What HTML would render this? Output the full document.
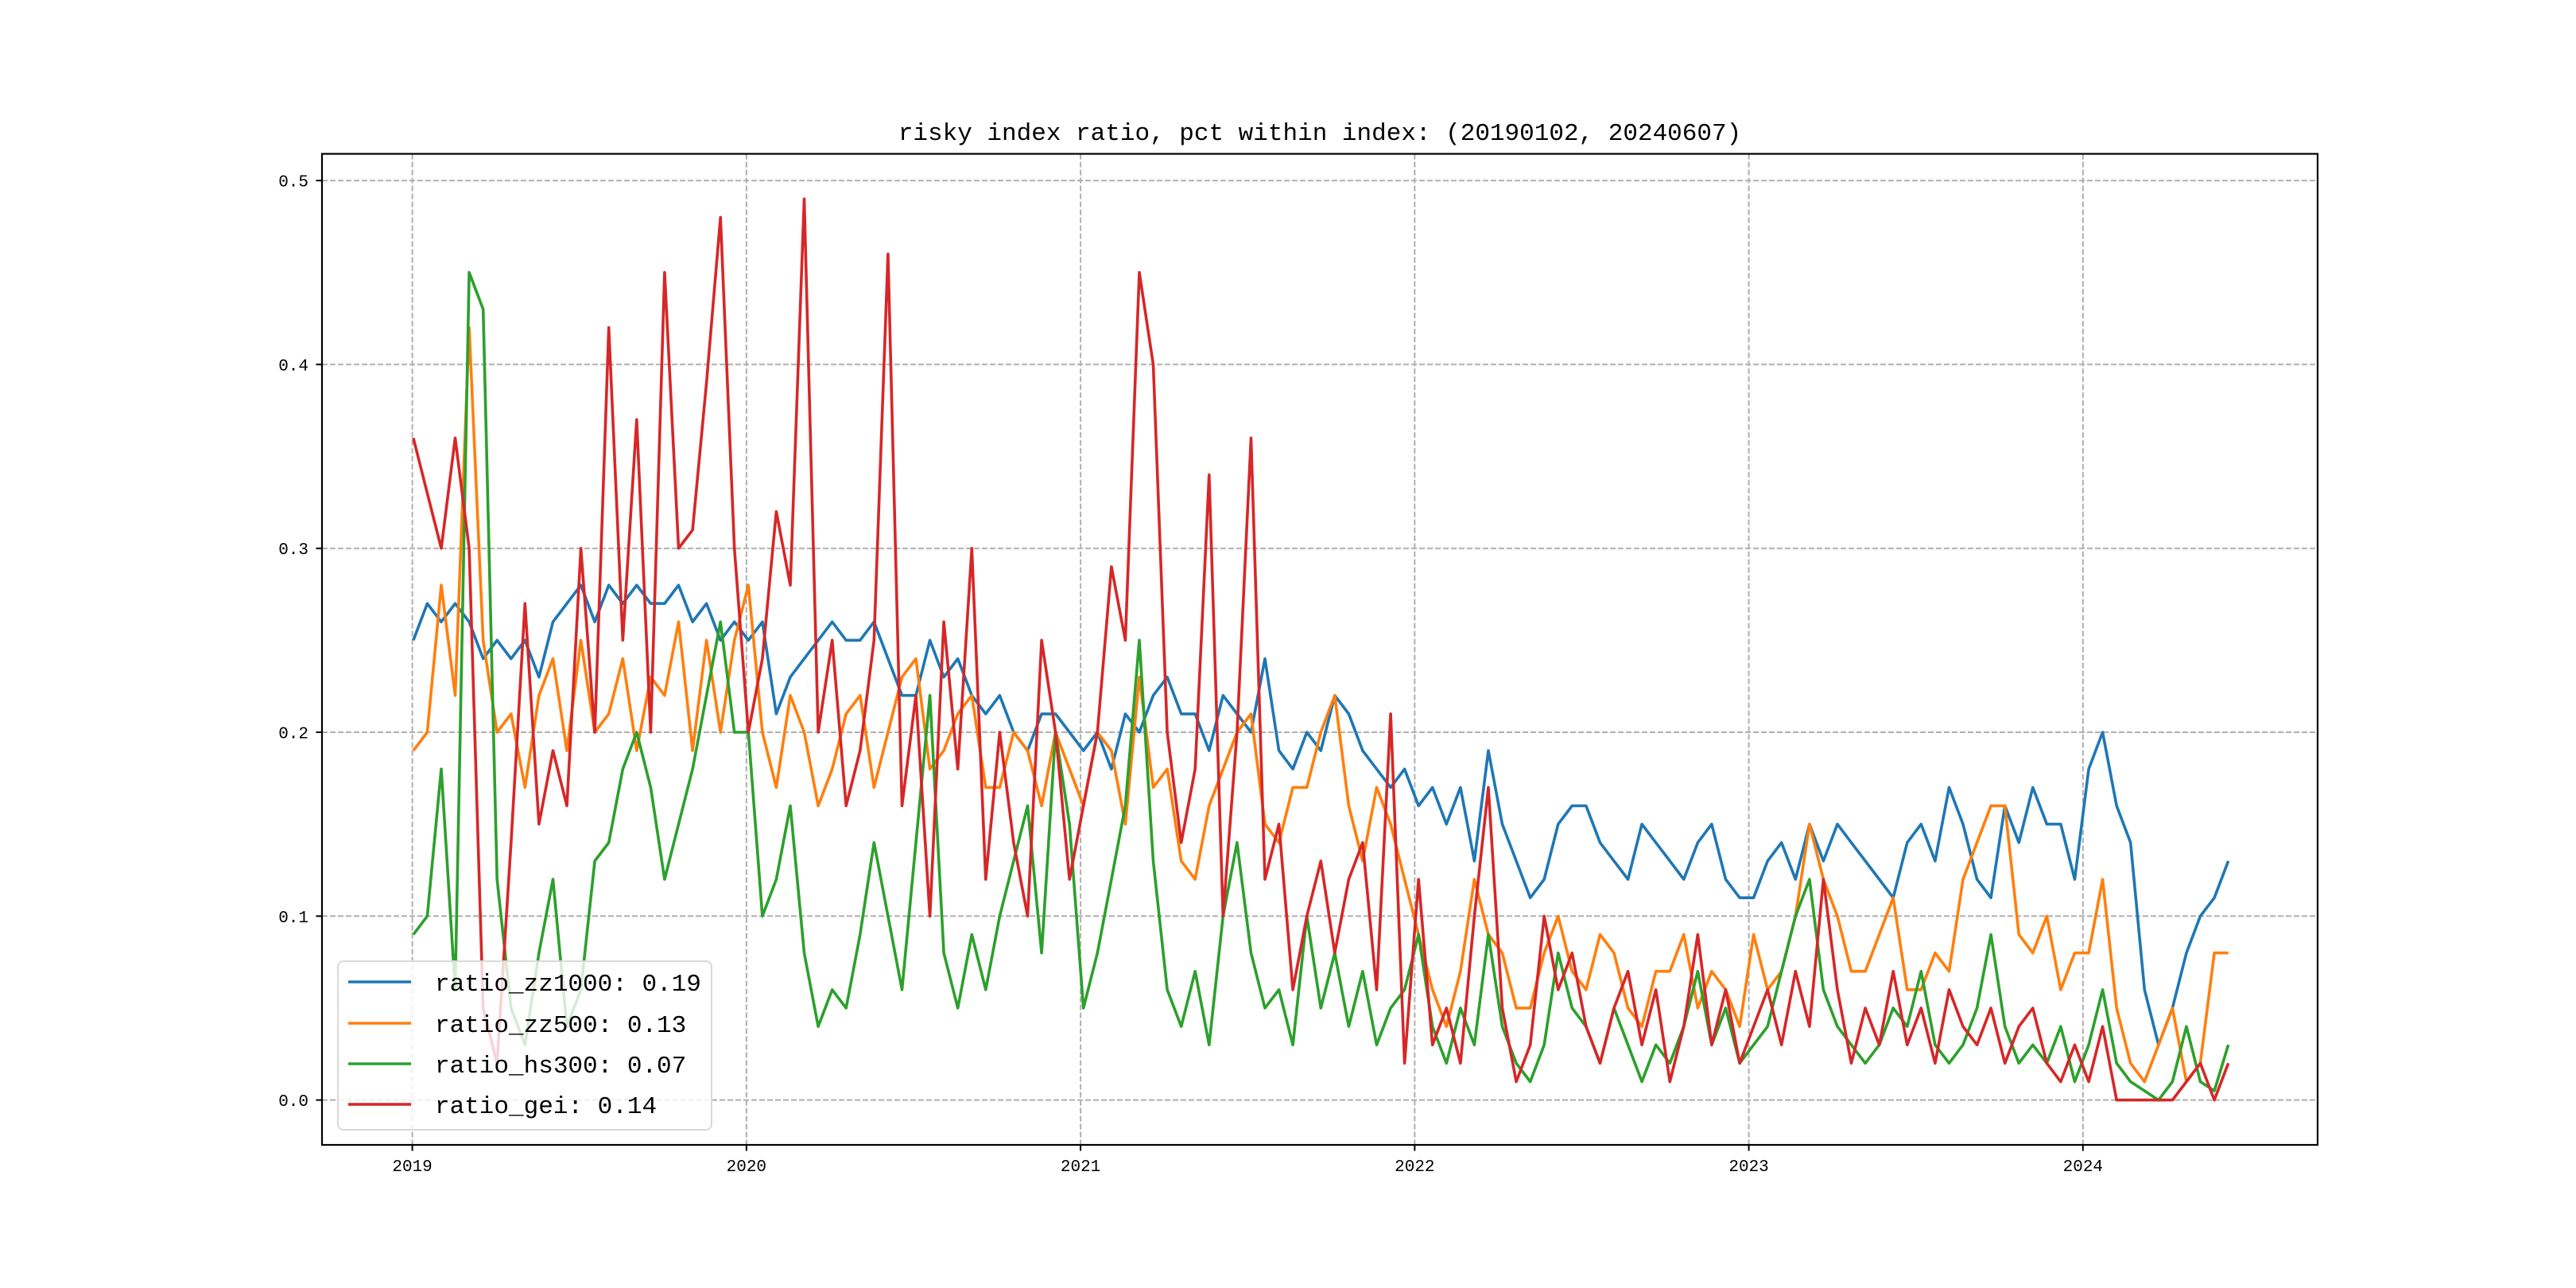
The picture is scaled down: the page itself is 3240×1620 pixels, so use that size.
<!DOCTYPE html>
<html><head><meta charset="utf-8"><style>
html,body{margin:0;padding:0;background:#fff;}
svg{display:block;}
text{font-family:"Liberation Mono","Noto Sans CJK SC",monospace;fill:#000;}
</style></head><body>
<svg id="chart" width="3240" height="1620" viewBox="0 0 3240 1620" xmlns="http://www.w3.org/2000/svg">
<rect x="0" y="0" width="3240" height="1620" fill="#fff"/>
<text x="1660" y="176" font-size="31" text-anchor="middle">risky index ratio, pct within index: (20190102, 20240607)</text>
<g id="grid"></g>
<g id="series"></g>
<rect x="405" y="193.5" width="2510" height="1246.5" fill="none" stroke="#000" stroke-width="2.2"/>
<g id="ticks"></g>
<g id="legend"></g>
</svg>
<script>
const yearTicks = [2019, 2020, 2021, 2022, 2023, 2024];
const yTicks = [0.0, 0.1, 0.2, 0.3, 0.4, 0.5];
const yTickLabels = ["0.0", "0.1", "0.2", "0.3", "0.4", "0.5"];
const startYear = 2019.003;
const endYear = 2024.435;
const seriesNames = ["ratio_zz1000", "ratio_zz500", "ratio_hs300", "ratio_gei"];
const seriesMeans = ["0.19", "0.13", "0.07", "0.14"];
const seriesColors = ["#1f77b4", "#ff7f0e", "#2ca02c", "#d62728"];
const zz1000 = [
0.25,0.27,0.26,0.27,0.26,0.24,0.25,0.24,0.25,0.23,0.26,0.27,0.28,0.26,0.28,0.27,0.28,0.27,0.27,0.28,0.26,0.27,0.25,0.26,
0.25,0.26,0.21,0.23,0.24,0.25,0.26,0.25,0.25,0.26,0.24,0.22,0.22,0.25,0.23,0.24,0.22,0.21,0.22,0.20,0.19,0.21,0.21,0.20,
0.19,0.20,0.18,0.21,0.20,0.22,0.23,0.21,0.21,0.19,0.22,0.21,0.20,0.24,0.19,0.18,0.20,0.19,0.22,0.21,0.19,0.18,0.17,0.18,
0.16,0.17,0.15,0.17,0.13,0.19,0.15,0.13,0.11,0.12,0.15,0.16,0.16,0.14,0.13,0.12,0.15,0.14,0.13,0.12,0.14,0.15,0.12,0.11,
0.11,0.13,0.14,0.12,0.15,0.13,0.15,0.14,0.13,0.12,0.11,0.14,0.15,0.13,0.17,0.15,0.12,0.11,0.16,0.14,0.17,0.15,0.15,0.12,
0.18,0.20,0.16,0.14,0.06,0.03,0.05,0.08,0.10,0.11,0.13];
const zz500 = [
0.19,0.20,0.28,0.22,0.42,0.25,0.20,0.21,0.17,0.22,0.24,0.19,0.25,0.20,0.21,0.24,0.19,0.23,0.22,0.26,0.19,0.25,0.20,0.25,
0.28,0.20,0.17,0.22,0.20,0.16,0.18,0.21,0.22,0.17,0.20,0.23,0.24,0.18,0.19,0.21,0.22,0.17,0.17,0.20,0.19,0.16,0.20,0.18,
0.16,0.20,0.19,0.15,0.23,0.17,0.18,0.13,0.12,0.16,0.18,0.20,0.21,0.15,0.14,0.17,0.17,0.20,0.22,0.16,0.13,0.17,0.15,0.12,
0.09,0.06,0.04,0.07,0.12,0.09,0.08,0.05,0.05,0.08,0.10,0.07,0.06,0.09,0.08,0.05,0.04,0.07,0.07,0.09,0.05,0.07,0.06,0.04,
0.09,0.06,0.07,0.10,0.15,0.12,0.10,0.07,0.07,0.09,0.11,0.06,0.06,0.08,0.07,0.12,0.14,0.16,0.16,0.09,0.08,0.10,0.06,0.08,
0.08,0.12,0.05,0.02,0.01,0.03,0.05,0.01,0.02,0.08,0.08];
const hs300 = [
0.09,0.10,0.18,0.06,0.45,0.43,0.12,0.05,0.03,0.08,0.12,0.04,0.06,0.13,0.14,0.18,0.20,0.17,0.12,0.15,0.18,0.22,0.26,0.20,
0.20,0.10,0.12,0.16,0.08,0.04,0.06,0.05,0.09,0.14,0.10,0.06,0.14,0.22,0.08,0.05,0.09,0.06,0.10,0.13,0.16,0.08,0.20,0.15,
0.05,0.08,0.12,0.16,0.25,0.13,0.06,0.04,0.07,0.03,0.10,0.14,0.08,0.05,0.06,0.03,0.10,0.05,0.08,0.04,0.07,0.03,0.05,0.06,
0.09,0.04,0.02,0.05,0.03,0.09,0.04,0.02,0.01,0.03,0.08,0.05,0.04,0.02,0.05,0.03,0.01,0.03,0.02,0.04,0.07,0.03,0.05,0.02,
0.03,0.04,0.07,0.10,0.12,0.06,0.04,0.03,0.02,0.03,0.05,0.04,0.07,0.03,0.02,0.03,0.05,0.09,0.04,0.02,0.03,0.02,0.04,0.01,
0.03,0.06,0.02,0.01,0.005,0.0,0.01,0.04,0.01,0.005,0.03];
const gei = [
0.36,0.33,0.30,0.36,0.30,0.05,0.02,0.14,0.27,0.15,0.19,0.16,0.30,0.20,0.42,0.25,0.37,0.20,0.45,0.30,0.31,0.39,0.48,0.30,
0.20,0.24,0.32,0.28,0.49,0.20,0.25,0.16,0.19,0.25,0.46,0.16,0.22,0.10,0.26,0.18,0.30,0.12,0.20,0.14,0.10,0.25,0.20,0.12,
0.16,0.20,0.29,0.25,0.45,0.40,0.20,0.14,0.18,0.34,0.10,0.20,0.36,0.12,0.15,0.06,0.10,0.13,0.08,0.12,0.14,0.06,0.21,0.02,
0.12,0.03,0.05,0.02,0.10,0.17,0.05,0.01,0.03,0.10,0.06,0.08,0.04,0.02,0.05,0.07,0.03,0.06,0.01,0.04,0.09,0.03,0.06,0.02,
0.04,0.06,0.03,0.07,0.04,0.12,0.06,0.02,0.05,0.03,0.07,0.03,0.05,0.02,0.06,0.04,0.03,0.05,0.02,0.04,0.05,0.02,0.01,0.03,
0.01,0.04,0.0,0.0,0.0,0.0,0.0,0.01,0.02,0.0,0.02];
const seriesData = [zz1000, zz500, hs300, gei];

const NS = "http://www.w3.org/2000/svg";
const X0 = 518.6, PXYEAR = 420.25, Y0 = 1383.6, PXUNIT = 2313;
function xScale(t){ return X0 + (t - 2019) * PXYEAR; }
function yScale(v){ return Y0 - v * PXUNIT; }
function mk(tag, attrs){ const e = document.createElementNS(NS, tag); for (const k in attrs) e.setAttribute(k, attrs[k]); return e; }

const grid = document.getElementById('grid');
const ticks = document.getElementById('ticks');
yearTicks.forEach(function(yr){
  const x = xScale(yr);
  const g = mk('line', {x1:x, x2:x, y1:193.5, y2:1440, stroke:'#b0b0b0', 'stroke-width':2, 'stroke-dasharray':'7,3'});
  
  
  grid.appendChild(g);
  const t = mk('line', {x1:x, x2:x, y1:1440, y2:1447.5, stroke:'#000', 'stroke-width':2});
  
  
  ticks.appendChild(t);
  const l = mk('text', {x:x, y:1473, 'font-size':21, 'text-anchor':'middle'});
  l.textContent = String(yr);
  
  
  ticks.appendChild(l);
});
yTicks.forEach(function(v, i){
  const y = yScale(v);
  const g = mk('line', {x1:405, x2:2915, y1:y, y2:y, stroke:'#b0b0b0', 'stroke-width':2, 'stroke-dasharray':'7,3'});
  
  
  grid.appendChild(g);
  const t = mk('line', {x1:397.5, x2:405, y1:y, y2:y, stroke:'#000', 'stroke-width':2});
  
  
  ticks.appendChild(t);
  const l = mk('text', {x:388, y:y + 7.5, 'font-size':21, 'text-anchor':'end'});
  l.textContent = yTickLabels[i];
  
  
  ticks.appendChild(l);
});

const series = document.getElementById('series');
seriesData.forEach(function(arr, si){
  const n = arr.length;
  const step = (endYear - startYear) / (n - 1);
  const pts = arr.map(function(v, i){ return xScale(startYear + i * step).toFixed(1) + ',' + yScale(v).toFixed(1); }).join(' ');
  const p = mk('polyline', {points:pts, fill:'none', stroke:seriesColors[si], 'stroke-width':3.6, 'stroke-linejoin':'round'});
  
  
  series.appendChild(p);
});

const legend = document.getElementById('legend');
const box = mk('rect', {x:425, y:1209, width:470, height:212, rx:7, fill:'rgba(255,255,255,0.8)', stroke:'#d9d9d9', 'stroke-width':2});


legend.appendChild(box);
const legendYs = [1235, 1287, 1338, 1389];
seriesNames.forEach(function(name, i){
  const y = legendYs[i];
  const ln = mk('line', {x1:438, x2:517, y1:y, y2:y, stroke:seriesColors[i], 'stroke-width':3.6});
  
  
  legend.appendChild(ln);
  const tx = mk('text', {x:547, y:y + 11, 'font-size':31});
  tx.textContent = name + ': ' + seriesMeans[i];
  
  
  legend.appendChild(tx);
});
</script>
</body></html>
